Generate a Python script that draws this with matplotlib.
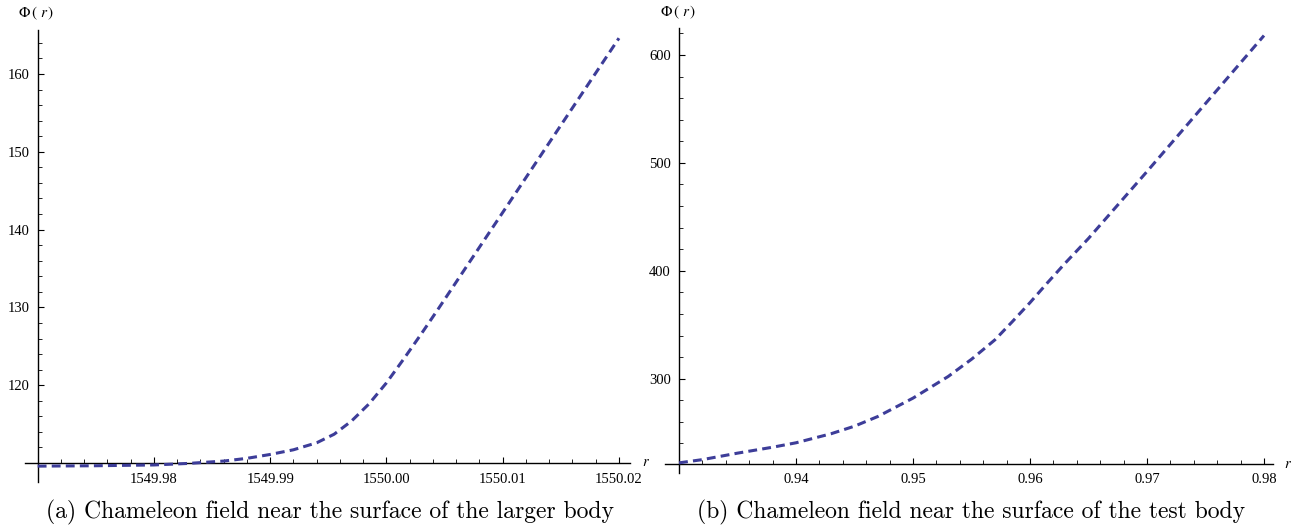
import matplotlib
matplotlib.use("Agg")
import matplotlib.pyplot as plt
from matplotlib.ticker import FixedLocator

plt.rcParams['font.family'] = 'Liberation Serif'
plt.rcParams['mathtext.fontset'] = 'stix'

# values
r_large = [1549.970, 1549.975, 1549.980, 1549.983, 1549.986, 1549.988, 1549.990,
           1549.992, 1549.994, 1549.9955, 1549.997, 1549.9985, 1550.000, 1550.0015,
           1550.003, 1550.0045, 1550.007, 1550.010, 1550.015, 1550.020]
phi_large = [109.6, 109.65, 109.75, 109.95, 110.25, 110.6, 111.1,
             111.7, 112.6, 113.7, 115.4, 117.6, 120.3, 123.4,
             126.6, 129.9, 135.5, 142.2, 153.4, 164.6]

r_test = [0.930, 0.932, 0.935, 0.938, 0.940, 0.943, 0.945, 0.947, 0.950, 0.953,
          0.955, 0.957, 0.9585, 0.960, 0.9615, 0.963, 0.965, 0.970, 0.975, 0.980]
phi_test = [222, 225, 231, 236.5, 240.6, 249, 256, 265, 282, 302,
            318, 336, 353, 370.5, 389, 407, 430, 492, 555, 618]

captions = ["(a) Chameleon field near the surface of the larger body",
            "(b) Chameleon field near the surface of the test body"]

line_color = '#3d3d99'

fig = plt.figure(figsize=(13.04, 5.27), dpi=100)
ax1 = fig.add_axes([25/1304, 1-482/527, 605/1304, 452/527])
ax2 = fig.add_axes([665/1304, 1-473/527, 608/1304, 445/527])


def style_axis(ax, xs, ys, x0, y0, xlim, ylim, xmaj, xmin, ymaj, ymin, ylabel_xy, rlabel_xy):
    ax.plot(xs, ys, color=line_color, lw=2.2, dashes=(2.9, 1.7), zorder=3)
    ax.set_xlim(*xlim)
    ax.set_ylim(*ylim)
    for s in ['top', 'right']:
        ax.spines[s].set_visible(False)
    ax.spines['left'].set_position(('data', x0))
    ax.spines['bottom'].set_position(('data', y0))
    for s in ['left', 'bottom']:
        ax.spines[s].set_linewidth(1.0)
    ax.xaxis.set_major_locator(FixedLocator(xmaj))
    ax.xaxis.set_minor_locator(FixedLocator(xmin))
    ax.yaxis.set_major_locator(FixedLocator(ymaj))
    ax.yaxis.set_minor_locator(FixedLocator(ymin))
    ax.set_xticklabels(['{:.2f}'.format(v) for v in xmaj])
    ax.set_yticklabels(['{:d}'.format(v) for v in ymaj])
    ax.tick_params(which='major', direction='in', length=4.5, width=0.8,
                   labelsize=10.5, pad=7)
    ax.tick_params(which='minor', direction='in', length=2.7, width=0.6)
    ax.tick_params(axis='y', which='major', pad=6)
    ax.patch.set_alpha(0)
    fig.text(ylabel_xy[0]/1304, 1-ylabel_xy[1]/527, r'$\Phi\,(\ r\,)$',
             fontsize=11, ha='center', va='center')
    fig.text(rlabel_xy[0]/1304, 1-rlabel_xy[1]/527, r'$r$',
             fontsize=10.5, ha='center', va='center')


style_axis(ax1, r_large, phi_large, 1549.97, 110,
           (1549.96891, 1550.02095), (107.56, 165.65),
           [1549.98, 1549.99, 1550.00, 1550.01, 1550.02],
           [1549.97 + 0.002*i for i in range(1, 26) if i % 5 != 0],
           [120, 130, 140, 150, 160],
           [112, 114, 116, 118, 122, 124, 126, 128, 132, 134, 136, 138,
            142, 144, 146, 148, 152, 154, 156, 158, 162, 164],
           (36, 13), (646, 463))

style_axis(ax2, r_test, phi_test, 0.93, 221.3,
           (0.9288, 0.98077), (212.6, 625.0),
           [0.94, 0.95, 0.96, 0.97, 0.98],
           [0.93 + 0.002*i for i in range(1, 26) if i % 5 != 0],
           [300, 400, 500, 600],
           [240, 260, 280, 320, 340, 360, 380, 420, 440, 460, 480,
            520, 540, 560, 580, 620],
           (678, 12), (1288, 465))

for i, cap in enumerate(captions):
    cx = [330, 971][i]
    fig.text(cx/1304, 1-512/527, cap, family='cmr10', fontsize=17,
             ha='center', va='center')

fig.savefig('out.png', dpi=100)
